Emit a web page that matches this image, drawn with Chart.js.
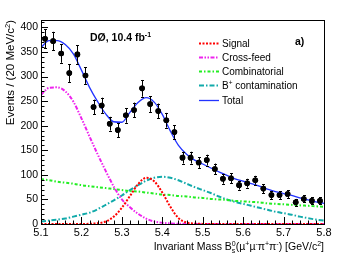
<!DOCTYPE html>
<html lang="en">
<head>
    <meta charset="UTF-8">
    <title>Bs invariant mass fit</title>
    <script src="https://cdn.jsdelivr.net/npm/chart.js"></script>
    <style>
        body {
            margin: 0;
            padding: 0;
            background-color: #fff;
        }
        canvas {
            display: block;
        }
    </style>
</head>
<body>
    <canvas id="massChart" width="355" height="256"></canvas>

    <script>
        // Data points (20 MeV bins)
        const binCenters = [5.11, 5.13, 5.15, 5.17, 5.19, 5.21, 5.23, 5.25, 5.27, 5.29,
                            5.31, 5.33, 5.35, 5.37, 5.39, 5.41, 5.43, 5.45, 5.47, 5.49,
                            5.51, 5.53, 5.55, 5.57, 5.59, 5.61, 5.63, 5.65, 5.67, 5.69,
                            5.71, 5.73, 5.75, 5.77, 5.79];
        const counts = [377, 372, 347, 307, 345, 302, 238, 241, 204, 191,
                        221, 232, 276, 244, 230, 211, 187, 135, 135, 125,
                        130, 112, 92, 93, 79, 83, 89, 72, 59, 59,
                        61, 44, 51, 47, 47];
        const countErrors = [19, 19, 19, 18, 19, 17, 15, 16, 14, 14,
                             15, 15, 17, 16, 15, 15, 14, 12, 12, 11,
                             11, 11, 10, 10, 9, 9, 9, 9, 8, 8,
                             8, 7, 7, 7, 7];

        const massGrid = [5.10, 5.12, 5.14, 5.16, 5.18, 5.20, 5.22, 5.24, 5.26, 5.28,
                          5.30, 5.32, 5.34, 5.36, 5.38, 5.40, 5.42, 5.44, 5.46, 5.48,
                          5.50, 5.52, 5.54, 5.56, 5.58, 5.60, 5.62, 5.64, 5.66, 5.68,
                          5.70, 5.72, 5.74, 5.76, 5.78, 5.80];
        const signal = [0, 0, 0, 0, 0, 0, 0.5, 1.5, 5, 15,
                        33, 57, 81, 94, 87, 64, 35, 12, 3, 1,
                        0.2, 0, 0, 0, 0, 0, 0, 0, 0, 0,
                        0, 0, 0, 0, 0, 0];
        const crossFeed = [263, 277, 278, 270, 249, 215, 178, 142, 108, 76,
                           50, 34, 21, 11, 5, 2.5, 1.2, 0.5, 0.2, 0,
                           0, 0, 0, 0, 0, 0, 0, 0, 0, 0,
                           0, 0, 0, 0, 0, 0];
        const combinatorial = [91, 89, 86, 84, 82, 79, 77, 75, 73, 71,
                               69, 67, 66, 64, 62, 60, 59, 57, 56, 54,
                               53, 51, 50, 49, 47, 46, 45, 44, 42, 41,
                               40, 39, 38, 37, 36, 35];
        const bplusContamination = [5, 7, 9, 11, 15, 19, 23, 30, 39, 48,
                                    58, 69, 79, 88, 94, 96, 94, 89, 82, 75,
                                    69, 63, 56, 50, 45, 41, 37, 33, 29, 25,
                                    22, 19, 15, 12, 9, 7];
        const total = [359, 373, 373, 365, 346, 313, 278, 249, 224, 208,
                       207, 227, 247, 257, 248, 223, 189, 160, 142, 130,
                       122, 114, 106, 99, 92, 87, 82, 77, 71, 66,
                       62, 58, 53, 49, 45, 42];

        const xTicks = [5.1, 5.2, 5.3, 5.4, 5.5, 5.6, 5.7, 5.8];
        const yTicks = [0, 50, 100, 150, 200, 250, 300, 350, 400];

        const FONT = "'Liberation Sans', Arial, Helvetica, sans-serif";

        function toPoints(xs, ys) {
            return xs.map((x, i) => ({ x: x, y: ys[i] }));
        }

        function curve(label, ys, color, dash, width) {
            return {
                label: label,
                data: toPoints(massGrid, ys),
                showLine: true,
                borderColor: color,
                borderWidth: width,
                borderDash: dash,
                pointRadius: 0,
                cubicInterpolationMode: 'monotone',
                fill: false
            };
        }

        const curves = [
            curve('Signal', signal, '#ff0000', [2, 1.5], 2),
            curve('Cross-feed', crossFeed, '#ee22ee', [4, 1.5, 1.5, 1.5, 1.5, 1.5], 2),
            curve('Combinatorial', combinatorial, '#22ee22', [3, 2, 1.5, 2], 2),
            curve('B+ contamination', bplusContamination, '#11aaaa', [5, 2, 1.5, 2], 2),
            curve('Total', total, '#2233ff', [], 1.3)
        ];

        // draw text with small raised / lowered pieces
        function drawRich(ctx, x, y, parts, align, bold) {
            const weight = bold ? 'bold ' : '';
            let width = 0, pending = 0;
            const widths = parts.map(p => {
                ctx.font = weight + p.s + 'px ' + FONT;
                return ctx.measureText(p.t).width;
            });
            parts.forEach((p, i) => {
                if (p.keep) { pending = widths[i]; return; }
                width += Math.max(widths[i], pending);
                pending = 0;
            });
            let cx = align === 'right' ? x - width : x;
            pending = 0;
            ctx.textBaseline = 'alphabetic';
            ctx.textAlign = 'left';
            parts.forEach((p, i) => {
                ctx.font = weight + p.s + 'px ' + FONT;
                ctx.fillText(p.t, cx, y + (p.dy || 0));
                if (p.keep) { pending = widths[i]; return; }
                cx += Math.max(widths[i], pending);
                pending = 0;
            });
        }

        const rootFrame = {
            id: 'rootFrame',
            afterDraw(chart) {
                const ctx = chart.ctx;
                const a = chart.chartArea;
                const xs = chart.scales.x, ys = chart.scales.y;
                ctx.save();
                ctx.strokeStyle = '#000';
                ctx.lineWidth = 1;
                ctx.strokeRect(Math.round(a.left) + 0.5, Math.round(a.top) + 0.5,
                               Math.round(a.right - a.left), Math.round(a.bottom - a.top));

                // ticks drawn inside the frame
                ctx.beginPath();
                for (let v = 0; v <= 410; v += 10) {
                    const py = Math.round(ys.getPixelForValue(v)) + 0.5;
                    const len = v % 50 === 0 ? 7 : 3.5;
                    ctx.moveTo(a.left, py);
                    ctx.lineTo(a.left + len, py);
                }
                for (let k = 0; k <= 35; k++) {
                    const px = Math.round(xs.getPixelForValue(5.1 + k * 0.02)) + 0.5;
                    const len = k % 5 === 0 ? 7 : 3.5;
                    ctx.moveTo(px, a.bottom);
                    ctx.lineTo(px, a.bottom - len);
                }
                ctx.stroke();

                // error bars
                const meta = chart.getDatasetMeta(chart.data.datasets.length - 1);
                ctx.strokeStyle = '#000';
                ctx.beginPath();
                counts.forEach((c, i) => {
                    const px = Math.round(xs.getPixelForValue(binCenters[i])) + 0.5;
                    const hi = ys.getPixelForValue(c + countErrors[i]);
                    const lo = ys.getPixelForValue(c - countErrors[i]);
                    ctx.moveTo(px, hi);
                    ctx.lineTo(px, lo);
                    ctx.moveTo(px - 1.5, Math.round(hi) + 0.5);
                    ctx.lineTo(px + 1.5, Math.round(hi) + 0.5);
                    ctx.moveTo(px - 1.5, Math.round(lo) + 0.5);
                    ctx.lineTo(px + 1.5, Math.round(lo) + 0.5);
                });
                ctx.stroke();
                meta.controller.draw();

                ctx.fillStyle = '#000';

                // axis titles
                drawRich(ctx, a.right, 250, [
                    { t: 'Invariant Mass B', s: 10.5 },
                    { t: '0', s: 7, dy: -4.5, keep: true },
                    { t: 's', s: 7, dy: 2.5 },
                    { t: '(\u00b5', s: 10.5 },
                    { t: '+', s: 7, dy: -4.5 },
                    { t: '\u00b5', s: 10.5 },
                    { t: '-', s: 7, dy: -4.5 },
                    { t: '\u03c0', s: 10.5 },
                    { t: '+', s: 7, dy: -4.5 },
                    { t: '\u03c0', s: 10.5 },
                    { t: '-', s: 7, dy: -4.5 },
                    { t: ') [GeV/c', s: 10.5 },
                    { t: '2', s: 7, dy: -4.5 },
                    { t: ']', s: 10.5 }
                ], 'right', false);

                ctx.save();
                ctx.translate(14, a.top);
                ctx.rotate(-Math.PI / 2);
                drawRich(ctx, 0, 0, [
                    { t: 'Events / (20 MeV/c', s: 11.5 },
                    { t: '2', s: 7.5, dy: -4.5 },
                    { t: ')', s: 11.5 }
                ], 'right', false);
                ctx.restore();

                // labels in the plot
                drawRich(ctx, 90, 41, [
                    { t: 'D\u00d8, 10.4 fb', s: 10.5 },
                    { t: '-1', s: 7, dy: -4.5 }
                ], 'left', true);
                drawRich(ctx, 295, 45, [{ t: 'a)', s: 10.5 }], 'left', true);

                // legend
                curves.forEach((ds, i) => {
                    const ly = Math.round(42.5 + i * 14.25) + 0.5;
                    ctx.strokeStyle = ds.borderColor;
                    ctx.lineWidth = ds.borderWidth;
                    ctx.setLineDash(ds.borderDash);
                    ctx.beginPath();
                    ctx.moveTo(199, ly);
                    ctx.lineTo(219, ly);
                    ctx.stroke();
                    ctx.setLineDash([]);
                    if (i === 3) {
                        drawRich(ctx, 222, ly + 3.5, [
                            { t: 'B', s: 10 },
                            { t: '+', s: 6.5, dy: -4 },
                            { t: ' contamination', s: 10 }
                        ], 'left', false);
                    } else {
                        drawRich(ctx, 222, ly + 3.5, [{ t: ds.label, s: 10 }], 'left', false);
                    }
                });
                ctx.restore();
            }
        };

        const dataPoints = {
            label: 'Data',
            data: toPoints(binCenters, counts),
            showLine: false,
            pointRadius: 2.8,
            pointBackgroundColor: '#000',
            pointBorderWidth: 0,
            borderColor: '#000'
        };

        new Chart(document.getElementById('massChart').getContext('2d'), {
            type: 'scatter',
            data: {
                datasets: curves.concat([dataPoints])
            },
            options: {
                responsive: false,
                animation: false,
                devicePixelRatio: 1,
                layout: { padding: { top: 20, right: 31, left: 0, bottom: 0 } },
                plugins: {
                    legend: { display: false },
                    tooltip: { enabled: false }
                },
                scales: {
                    x: {
                        type: 'linear',
                        min: 5.1,
                        max: 5.8,
                        grid: { display: false, drawTicks: false },
                        border: { display: false },
                        afterBuildTicks: s => { s.ticks = xTicks.map(v => ({ value: v })); },
                        afterFit: s => { s.height = 32; },
                        ticks: {
                            color: '#000',
                            padding: 2,
                            maxRotation: 0,
                            font: { family: FONT, size: 11 },
                            callback: v => v.toFixed(1)
                        }
                    },
                    y: {
                        type: 'linear',
                        min: 0,
                        max: 415,
                        grid: { display: false, drawTicks: false },
                        border: { display: false },
                        afterBuildTicks: s => { s.ticks = yTicks.map(v => ({ value: v })); },
                        afterFit: s => { s.width = 41; },
                        ticks: {
                            color: '#000',
                            padding: 3,
                            font: { family: FONT, size: 10.5 }
                        }
                    }
                }
            },
            plugins: [rootFrame]
        });
    </script>
</body>
</html>
